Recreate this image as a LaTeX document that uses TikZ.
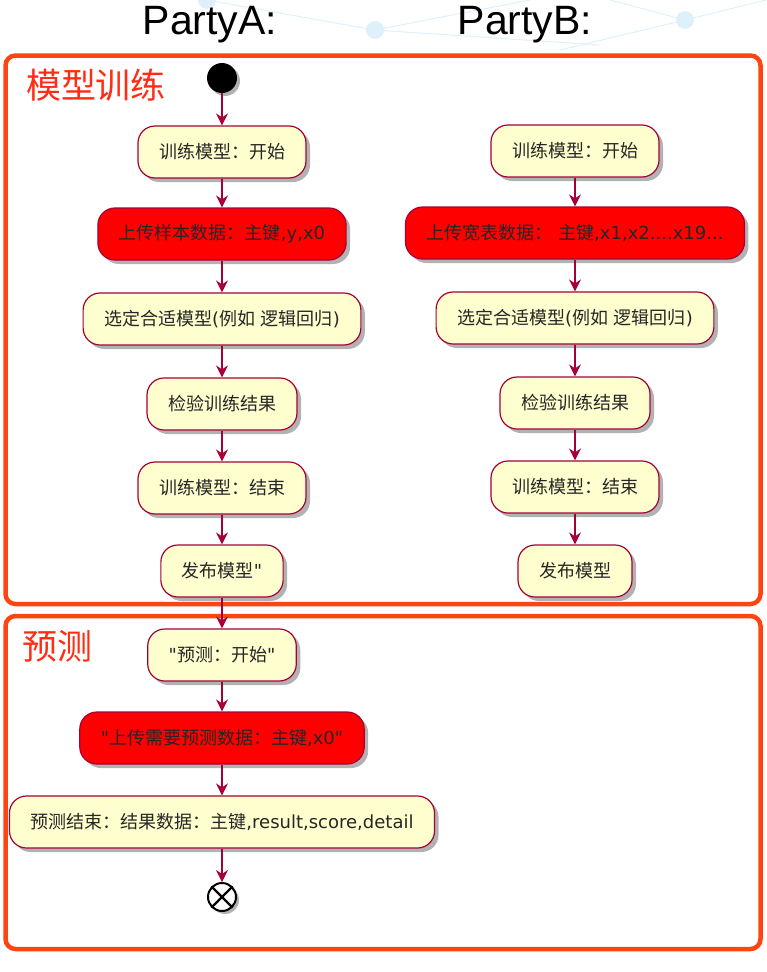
\documentclass[tikz,border=0pt]{standalone}
\usepackage{fontspec}
\newfontfamily\cjk{Noto Sans CJK SC}
\newfontfamily\lat{DejaVu Sans}
\newfontfamily\titlefont{Liberation Sans}
\usetikzlibrary{arrows.meta,shadows,positioning}
\definecolor{actfill}{HTML}{FEFECE}
\definecolor{actline}{HTML}{A80036}
\definecolor{upfill}{HTML}{FF0000}
\definecolor{framecol}{RGB}{255,68,20}
\definecolor{labcol}{RGB}{255,45,20}
\definecolor{netcol}{RGB}{222,240,252}

\begin{document}
\begin{tikzpicture}[x=1pt,y=-1pt,
    actbox/.style={rectangle, rounded corners=17pt, minimum height=52pt, inner xsep=21pt, draw=actline, line width=1.2pt, fill=actfill, text=black!85, font=\cjk\fontsize{18}{20}\selectfont, drop shadow={shadow xshift=4pt, shadow yshift=-4pt, opacity=0.3, fill=black}},
    upload/.style={actbox, fill=upfill},
    flow/.style={-{Stealth[length=12pt,width=12pt,inset=4pt]}, draw=actline, line width=1.2pt},
    frame/.style={draw=framecol, line width=4.5pt, rounded corners=10pt},
    framelab/.style={text=labcol, font=\cjk\fontsize{35}{38}\selectfont},
    party/.style={font=\titlefont\fontsize{41}{44}\selectfont},
]
\useasboundingbox (0,0) rectangle (766,972);

% faint network in the background
\draw[netcol, line width=1pt] (207,0) -- (375,30) -- (530,0);
\draw[netcol, line width=1pt] (375,30) -- (600,45);
\draw[netcol, line width=1pt] (610,0) -- (685,20) -- (766,0);
\draw[netcol, line width=1pt] (560,50) -- (685,20);
\fill[netcol] (207,0) circle (9) (375,30) circle (9) (685,20) circle (9);

% swimlane titles
\node[party, anchor=base] (partyA) at (210,34) {PartyA:};
\node[party, anchor=base] (partyB) at (525,34) {PartyB:};

% partitions
\draw[frame] (5.5,55.5) rectangle (760.5,604);
\draw[frame] (5.5,616) rectangle (760.5,949);
\node[framelab] (trainlab) at (96,85) {模型训练};
\node[framelab] (predlab) at (58,646) {预测};

% PartyA
\node[circle, fill=black, minimum size=30pt, inner sep=0pt, drop shadow={shadow xshift=3pt, shadow yshift=-3pt, opacity=0.3, fill=black}] (start) at (222,78) {};
\node[actbox] (a1) at (222,152) {训练模型：开始};
\node[upload] (a2) at (222,234) {上传样本数据：主键{\lat,y,x0}};
\node[actbox] (a3) at (222,319) {选定合适模型{\lat(}例如{\lat\ }逻辑回归{\lat)}};
\node[actbox] (a4) at (222,404) {检验训练结果};
\node[actbox] (a5) at (222,488) {训练模型：结束};
\node[actbox] (a6) at (222,571) {发布模型{\lat"}};

\node[actbox] (p1) at (222,655) {{\lat"}预测：开始{\lat"}};
\node[upload] (p2) at (222,738) {{\lat"}上传需要预测数据：主键{\lat,x0"}};
\node[actbox] (p3) at (222,822) {预测结束：结果数据：主键{\lat,result,score,detail}};
\node[circle, draw=black, line width=2pt, fill=white, minimum size=28pt, inner sep=0pt, drop shadow={shadow xshift=3pt, shadow yshift=-3pt, opacity=0.3, fill=black}] (finish) at (222,897) {};
\draw[line width=2.2pt] (finish.north east) -- (finish.south west);
\draw[line width=2.2pt] (finish.north west) -- (finish.south east);

% PartyB
\node[actbox] (b1) at (575,151) {训练模型：开始};
\node[upload] (b2) at (575,233) {上传宽表数据：{\lat\ }主键{\lat,x1,x2....x19...}};
\node[actbox] (b3) at (575,318) {选定合适模型{\lat(}例如{\lat\ }逻辑回归{\lat)}};
\node[actbox] (b4) at (575,403) {检验训练结果};
\node[actbox] (b5) at (575,487) {训练模型：结束};
\node[actbox] (b6) at (575,571) {发布模型};

% flows
\draw[flow] (start) -- (a1);
\draw[flow] (a1) -- (a2);
\draw[flow] (a2) -- (a3);
\draw[flow] (a3) -- (a4);
\draw[flow] (a4) -- (a5);
\draw[flow] (a5) -- (a6);
\draw[flow] (a6) -- (p1);
\draw[flow] (p1) -- (p2);
\draw[flow] (p2) -- (p3);
\draw[flow] (p3) -- (finish);

\draw[flow] (b1) -- (b2);
\draw[flow] (b2) -- (b3);
\draw[flow] (b3) -- (b4);
\draw[flow] (b4) -- (b5);
\draw[flow] (b5) -- (b6);
\end{tikzpicture}
\end{document}
